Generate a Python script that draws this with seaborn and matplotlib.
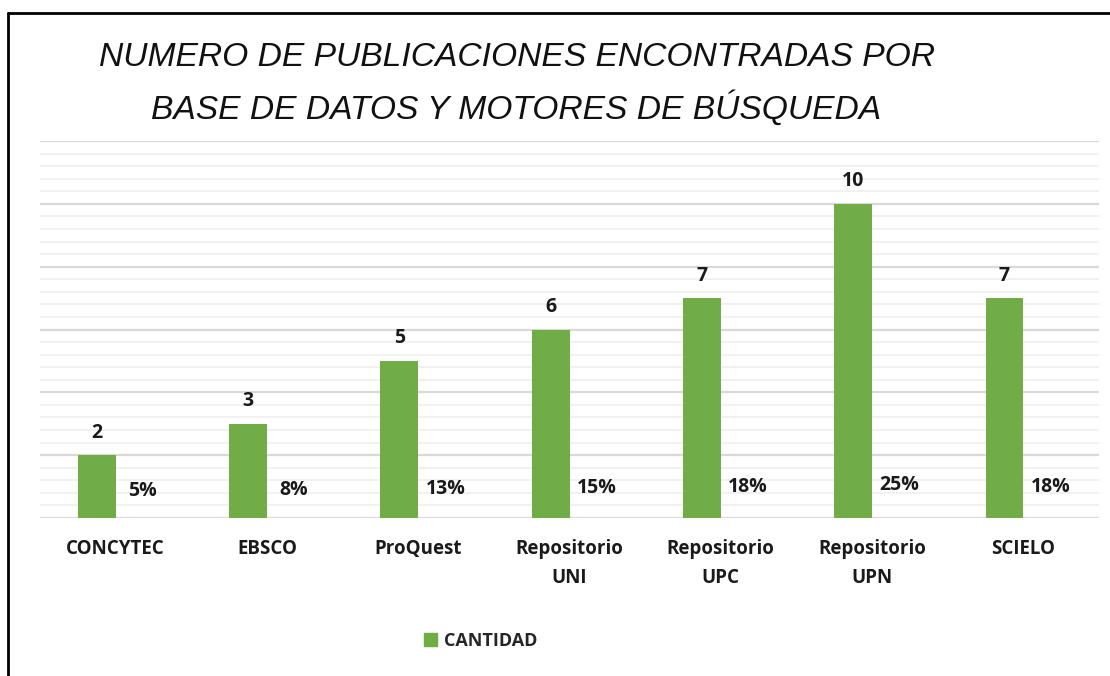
import matplotlib.pyplot as plt
import numpy as np
import pandas as pd
import seaborn as sns
from matplotlib.lines import Line2D
from matplotlib.patches import Patch
from matplotlib.ticker import MultipleLocator

bases = ["CONCYTEC", "EBSCO", "ProQuest", "Repositorio\nUNI",
         "Repositorio\nUPC", "Repositorio\nUPN", "SCIELO"]
cantidad = [2, 3, 5, 6, 7, 10, 7]
porcentaje = [0.05, 0.08, 0.13, 0.15, 0.18, 0.25, 0.18]

verde = "#70AD47"

df = pd.DataFrame({
    "base": bases * 2,
    "valor": cantidad + porcentaje,
    "serie": ["CANTIDAD"] * len(bases) + ["PORCENTAJE"] * len(bases),
})

sns.set_theme(style="white")
plt.rcParams["font.family"] = ["Open Sans", "DejaVu Sans"]

fig = plt.figure(figsize=(11.1, 6.76), dpi=100)
ax = fig.add_axes([40 / 1110, 1 - 518 / 676, 1059 / 1110, 377 / 676])

sns.barplot(data=df, x="base", y="valor", hue="serie",
            hue_order=["CANTIDAD", "PORCENTAJE"],
            palette={"CANTIDAD": verde, "PORCENTAJE": "white"},
            width=0.5, errorbar=None, legend=False, ax=ax,
            linewidth=0, saturation=1)

# percentage series is only there for its labels
for p in ax.containers[1]:
    p.set_alpha(0)

ax.bar_label(ax.containers[0], labels=[str(v) for v in cantidad],
             padding=9, fontsize=14, fontweight="bold", color="#1a1a1a")
plabels = ax.bar_label(ax.containers[1],
                       labels=[f"{v * 100:.0f}%" for v in porcentaje],
                       padding=10, fontsize=14, fontweight="bold", color="#1a1a1a")
for t in plabels:
    t.xyann = (6, 11)

ax.set_ylim(0, 12)
ax.set_xlim(-0.5, len(bases) - 0.5)
ax.yaxis.set_major_locator(MultipleLocator(2))
ax.yaxis.set_minor_locator(MultipleLocator(0.4))
ax.grid(axis="y", which="major", color="#d9d9d9", linewidth=1.6)
ax.grid(axis="y", which="minor", color="#f0f0f0", linewidth=1.3)
ax.set_axisbelow(True)
ax.set_yticklabels([])
ax.tick_params(axis="y", which="both", length=0)
ax.tick_params(axis="x", length=0, pad=15)
for lbl in ax.get_xticklabels():
    lbl.set_fontsize(13.5)
    lbl.set_fontweight("bold")
    lbl.set_linespacing(1.6)
    lbl.set_color("#1a1a1a")
ax.set_xlabel("")
ax.set_ylabel("")
sns.despine(ax=ax, left=True, bottom=True)

fig.text(517 / 1110, 1 - 57 / 676, "NUMERO DE PUBLICACIONES ENCONTRADAS POR",
         ha="center", va="center", fontsize=24.2, fontstyle="italic",
         family=["Liberation Sans", "DejaVu Sans"], color="#111111")
fig.text(516 / 1110, 1 - 108 / 676, "BASE DE DATOS Y MOTORES DE BÚSQUEDA",
         ha="center", va="center", fontsize=24.2, fontstyle="italic",
         family=["Liberation Sans", "DejaVu Sans"], color="#111111")

fig.legend(handles=[Patch(color=verde, label="CANTIDAD")],
           loc="center", bbox_to_anchor=(481 / 1110, 1 - 641 / 676),
           frameon=False, handlelength=0.7, handleheight=0.7,
           handletextpad=0.4, prop={"weight": "bold", "size": 13})

# frame of the screenshot (top and left edges)
fig.add_artist(Line2D([8 / 1110, 1], [1 - 13 / 676, 1 - 13 / 676],
                      transform=fig.transFigure, color="black", linewidth=2))
fig.add_artist(Line2D([8 / 1110, 8 / 1110], [0, 1 - 13 / 676],
                      transform=fig.transFigure, color="black", linewidth=2))

fig.savefig("out.png", dpi=100, facecolor="white")
